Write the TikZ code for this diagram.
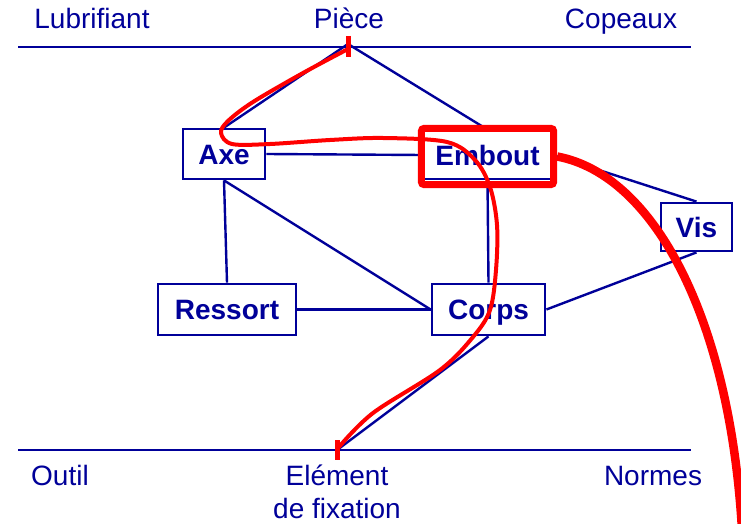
\documentclass[tikz,border=0pt]{standalone}
\usepackage{fontspec}
\setmainfont{Liberation Sans}
\usepackage{tikz}
\usetikzlibrary{
  fit,
  backgrounds,
}
\definecolor{lienBlue}{HTML}{000099}
\definecolor{fluxRed}{HTML}{FF0000}
\tikzset{
  extLabel/.style={
    anchor=base, text=lienBlue, inner sep=0pt,
    font=\fontsize{28pt}{33pt}\selectfont,
  },
  part/.style={
    rectangle, draw=lienBlue, line width=2.8pt, fill=white,
    inner sep=0pt, text=lienBlue, text height=20pt, text depth=0pt,
    font=\fontsize{28pt}{33pt}\selectfont\bfseries,
  },
  frontier/.style={
    draw=lienBlue, line width=2pt,
  },
  contact/.style={
    draw=lienBlue, line width=2.4pt,
  },
  hilite/.style={
    rectangle, draw=fluxRed, line width=7pt, rounded corners=3pt,
    inner sep=0pt,
  },
  fluxThin/.style={
    draw=fluxRed, line width=4pt, line join=round,
  },
  fluxThick/.style={
    draw=fluxRed, line width=8.5pt,
  },
  tickMark/.style={
    draw=fluxRed, line width=5pt,
  },
}
\begin{document}
\begin{tikzpicture}[x=1pt, y=-1pt]

\clip (0,0) rectangle (741,524);

% External elements
\node[extLabel] (lubrifiant) at (92,29) {Lubrifiant};
\node[extLabel] (piece) at (349,29) {Pièce};
\node[extLabel] (copeaux) at (621,29) {Copeaux};
\node[extLabel] (outil) at (60,485) {Outil};
\node[extLabel, align=center] (fixation) at (337,518) {Elément\\de fixation};
\node[extLabel] (normes) at (653,485) {Normes};

% Frontier lines
\coordinate (topLeft) at (18,47);
\coordinate (topRight) at (691,47);
\coordinate (botLeft) at (18,450);
\coordinate (botRight) at (691,450);
\draw[frontier] (topLeft) -- (topRight);
\draw[frontier] (botLeft) -- (botRight);

\coordinate (pieceTop) at (348,44);
\coordinate (fixBot) at (337,450);

% Parts
\node[part, minimum width=82pt, minimum height=50pt] (axe) at (224,154) {Axe};
\node[part, minimum width=127pt, minimum height=48pt] (embout) at (487.5,155) {Embout};
\node[part, minimum width=71pt, minimum height=48pt] (vis) at (696.5,227) {Vis};
\node[part, minimum width=138pt, minimum height=51pt] (ressort) at (227,309.5) {Ressort};
\node[part, minimum width=113pt, minimum height=51pt] (corps) at (488.5,309.5) {Corps};

% Contacts
\begin{scope}[on background layer]
\draw[contact] (pieceTop) -- (axe.north);
\draw[contact] (pieceTop) -- (embout.north);
\draw[contact] (axe.east) -- (embout.west);
\draw[contact] (axe.south) -- (ressort.north);
\draw[contact] (axe.south) -- (corps.west);
\draw[contact] (embout.south) -- (corps.north);
\draw[contact] (embout.east) -- (vis.north);
\draw[contact] (vis.south) -- (corps.east);
\draw[contact] (ressort.east) -- (corps.west);
\draw[contact] (corps.south) -- (fixBot);
\end{scope}

% Highlighted part and flux
\node[hilite, fit=(embout), inner xsep=1.3pt, inner ysep=2.8pt, yshift=-1.5pt]
   (emboutHilite) {};

\draw[tickMark] (348,36) -- (348,57);
\draw[tickMark] (337,440) -- (337,460);

\draw[fluxThin] plot[smooth, tension=0.55] coordinates {
  (348,49) (303,73) (253,102) (228,121) (221,133) (232,144) (270,144)
  (330,140) (383,138) (447,142) (475,160) (490,187) (497,225) (496,270)
  (490,310) (473,337) (440,370) (373,413) (339,447)};

\draw[fluxThick] (emboutHilite.east) .. controls (655,175) and (730,320) .. (742,530);

\end{tikzpicture}
\end{document}
